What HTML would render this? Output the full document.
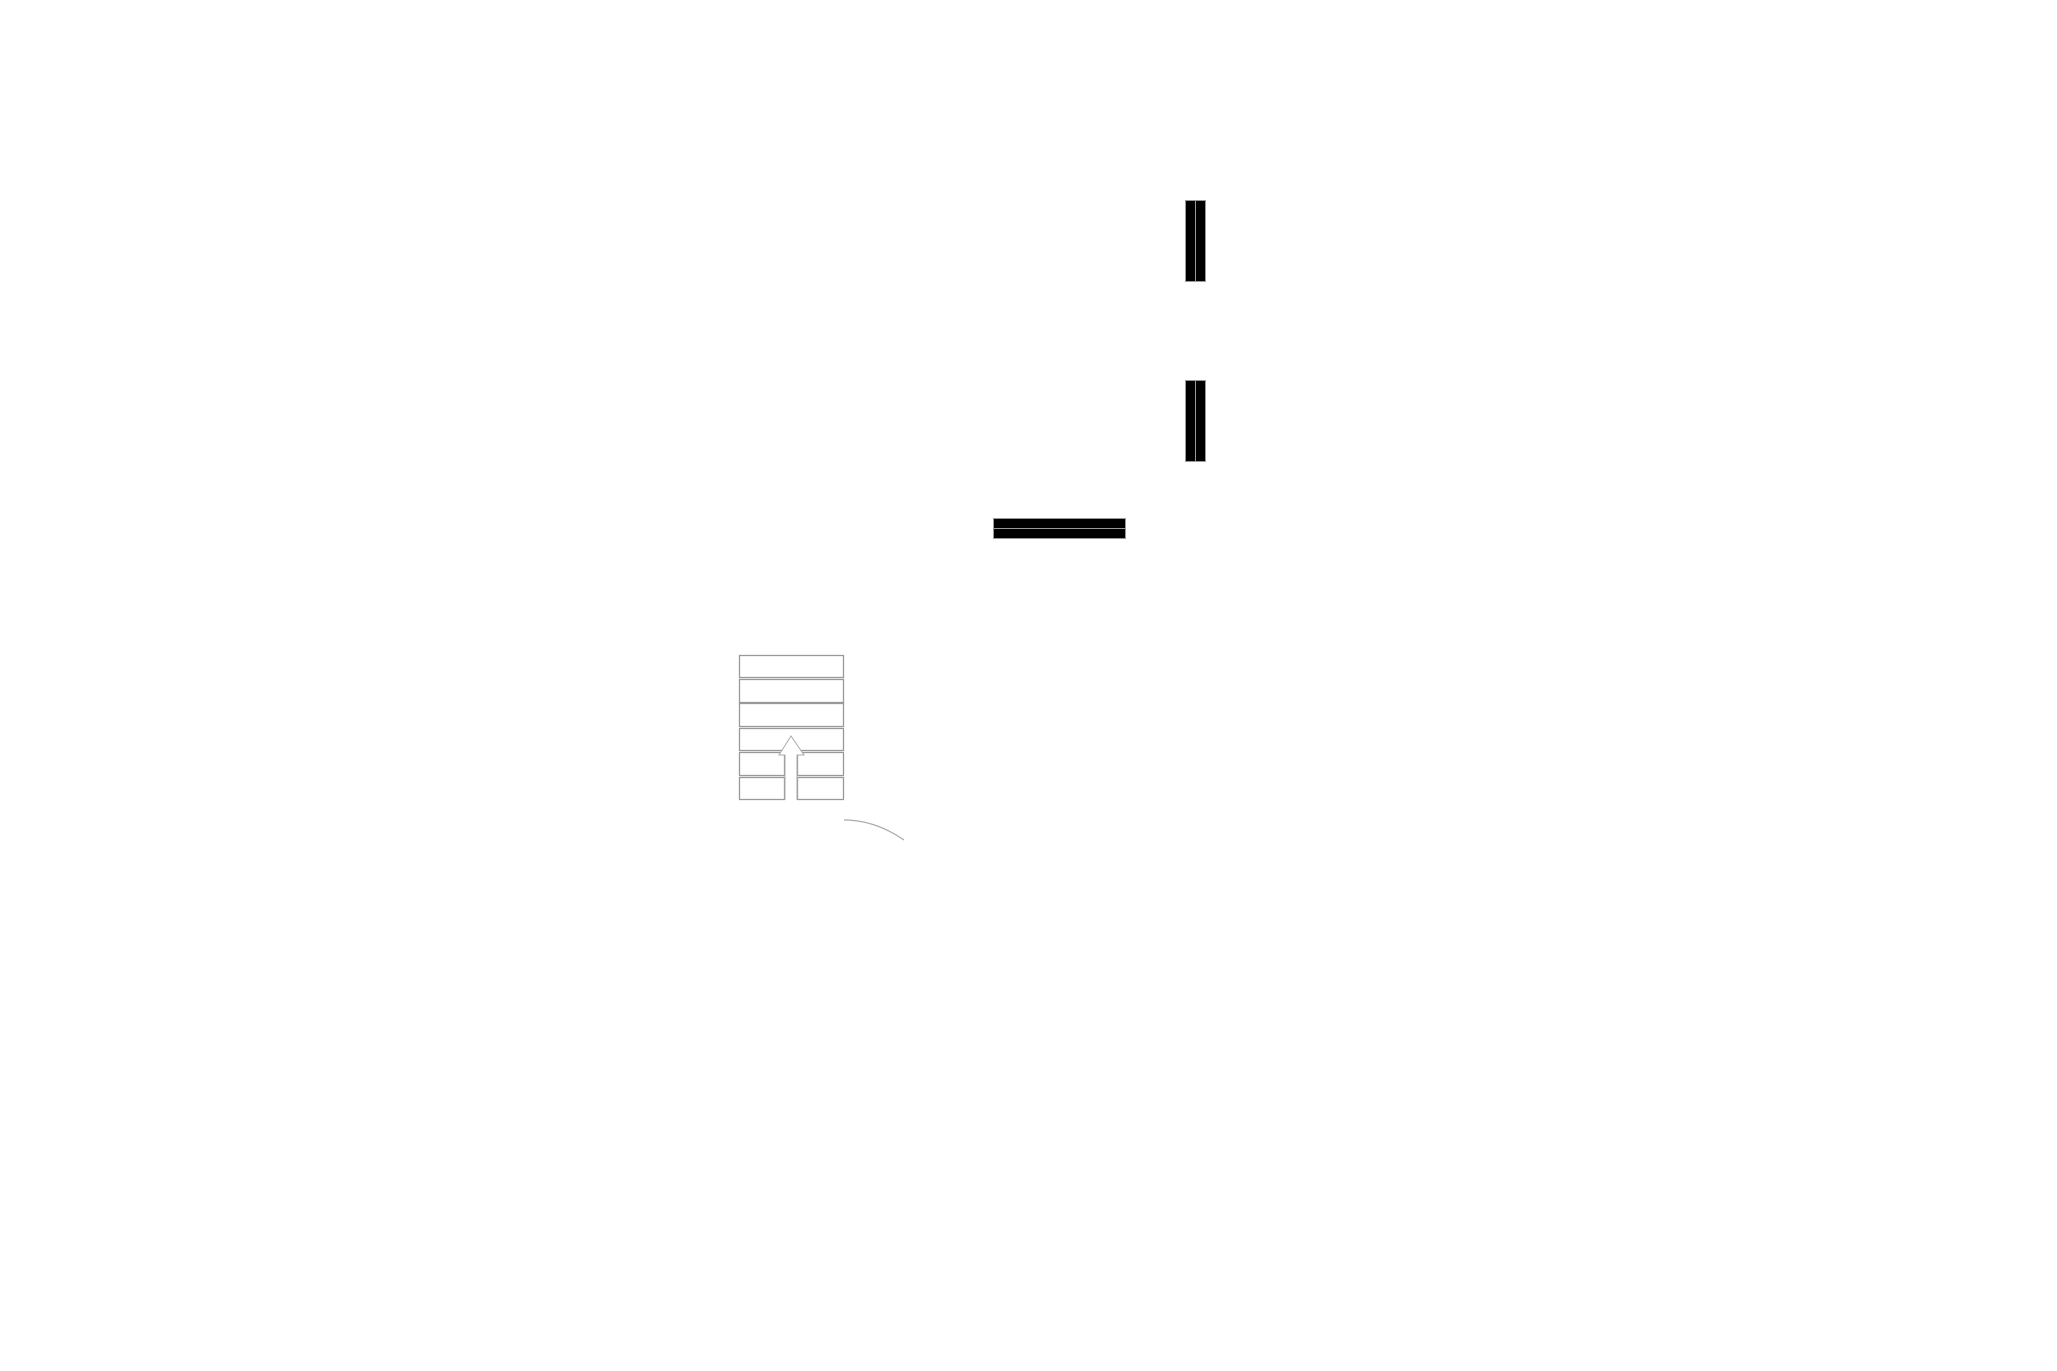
<!DOCTYPE html>
<html><head><meta charset="utf-8"><style>html,body{margin:0;padding:0;background:#fff;}svg{display:block}</style></head>
<body>
<svg width="2057" height="1371" viewBox="0 0 2057 1371" xmlns="http://www.w3.org/2000/svg">
<rect width="2057" height="1371" fill="#fff"/>
<g fill="#000" stroke="#999" stroke-width="1">
<rect x="1185.5" y="200.5" width="10" height="81"/>
<rect x="1195.5" y="200.5" width="10" height="81"/>
<rect x="1185.5" y="380.5" width="10" height="81"/>
<rect x="1195.5" y="380.5" width="10" height="81"/>
<rect x="993.5" y="518.5" width="132" height="10"/>
<rect x="993.5" y="528.5" width="132" height="10"/>
</g>
<g fill="none" stroke="#999" stroke-width="1.3">
<rect x="739.5" y="655.5" width="104" height="22"/>
<rect x="739.5" y="679.5" width="104" height="23"/>
<rect x="739.5" y="703.5" width="104" height="23"/>
<rect x="739.5" y="728.5" width="104" height="22"/>
<rect x="739.5" y="752.5" width="45" height="23"/>
<rect x="797.5" y="752.5" width="46" height="23"/>
<rect x="739.5" y="777.5" width="45" height="22"/>
<rect x="797.5" y="777.5" width="46" height="22"/>
</g>
<path d="M785 801 L785 755 L779 755 L791 736 L804 755 L797 755 L797 801 Z" fill="#fff" stroke="none"/>
<path d="M785 800 L785 755 L779 755 L791 736 L804 755 L797 755 L797 800" fill="none" stroke="#aaa" stroke-width="1"/>
<path d="M844 820 Q875 820 904 840" fill="none" stroke="#aaa" stroke-width="1.3"/>
</svg>
</body></html>
